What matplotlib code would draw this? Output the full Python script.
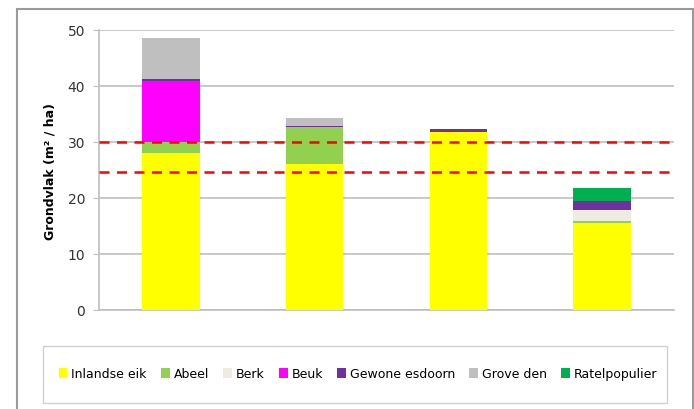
import matplotlib.pyplot as plt
from matplotlib.patches import Rectangle
import numpy as np

plt.rcParams['font.family'] = ['DejaVu Sans']

# data (m2/ha per soort, per opstand)
groups = ['1', '2', '3', '4']
species = ['Inlandse eik', 'Abeel', 'Berk', 'Beuk', 'Gewone esdoorn', 'Grove den', 'Ratelpopulier']
colors = ['#FFFF00', '#92D050', '#EEECE1', '#FF00FF', '#7030A0', '#BFBFBF', '#00B050']
inlandse_eik = [28.0, 26.1, 31.7, 15.5]
abeel = [2.0, 6.5, 0.0, 0.4]
berk = [0.0, 0.0, 0.0, 1.9]
beuk = [10.9, 0.0, 0.0, 0.0]
gewone_esdoorn = [0.3, 0.25, 0.6, 1.7]
grove_den = [7.4, 1.45, 0.0, 0.0]
ratelpopulier = [0.0, 0.0, 0.0, 2.35]
ref_lines = [30.0, 24.7]

series = [inlandse_eik, abeel, berk, beuk, gewone_esdoorn, grove_den, ratelpopulier]

fig = plt.figure(figsize=(6.94, 4.10), dpi=100)
ax = fig.add_axes([99 / 694, 1 - 311 / 410, 575 / 694, 280 / 410])

x = np.arange(len(groups))
bottom = np.zeros(len(groups))
handles = []
for name, vals, c in zip(species, series, colors):
    b = ax.bar(x, vals, width=0.4, bottom=bottom, color=c, label=name, zorder=3)
    handles.append(b)
    bottom += np.array(vals)

for v in ref_lines:
    ax.axhline(v, color='#FF0000', linestyle=(0, (4, 3)), linewidth=1.8, zorder=4)

ax.set_xlim(-0.5, len(groups) - 0.5)
ax.set_ylim(0, 50)
ax.set_yticks(range(0, 51, 10))
ax.set_xticks([])
ax.yaxis.grid(True, color='#BFBFBF', linewidth=1.2, zorder=0)
ax.set_axisbelow(True)
for s in ['top', 'right']:
    ax.spines[s].set_visible(False)
ax.spines['left'].set_color('#BFBFBF')
ax.spines['bottom'].set_color('#BFBFBF')
ax.spines['left'].set_linewidth(1.2)
ax.spines['bottom'].set_linewidth(1.2)
ax.tick_params(axis='y', length=4, color='#BFBFBF', labelsize=10, labelcolor='#333333', pad=6)
ax.set_ylabel('Grondvlak (m² / ha)', fontsize=9, fontweight='bold', labelpad=8)

# outer chart border
fig.patches.append(Rectangle((17 / 694, -0.1), 676 / 694, 1.1 - 10 / 410, transform=fig.transFigure,
                             fill=False, edgecolor='#9A9A9A', linewidth=1.5))
# legend frame
fig.patches.append(Rectangle((43 / 694, 1 - 404 / 410), 624 / 694, 57 / 410, transform=fig.transFigure,
                             fill=False, edgecolor='#D0D0D0', linewidth=1.0))
fig.legend(handles=handles, labels=species, loc='center', ncol=7, frameon=False,
           bbox_to_anchor=(358 / 694, 1 - 375 / 410), fontsize=9, handlelength=0.7, handleheight=0.8,
           handletextpad=0.3, columnspacing=1.15)

fig.savefig('out.png', dpi=100)
